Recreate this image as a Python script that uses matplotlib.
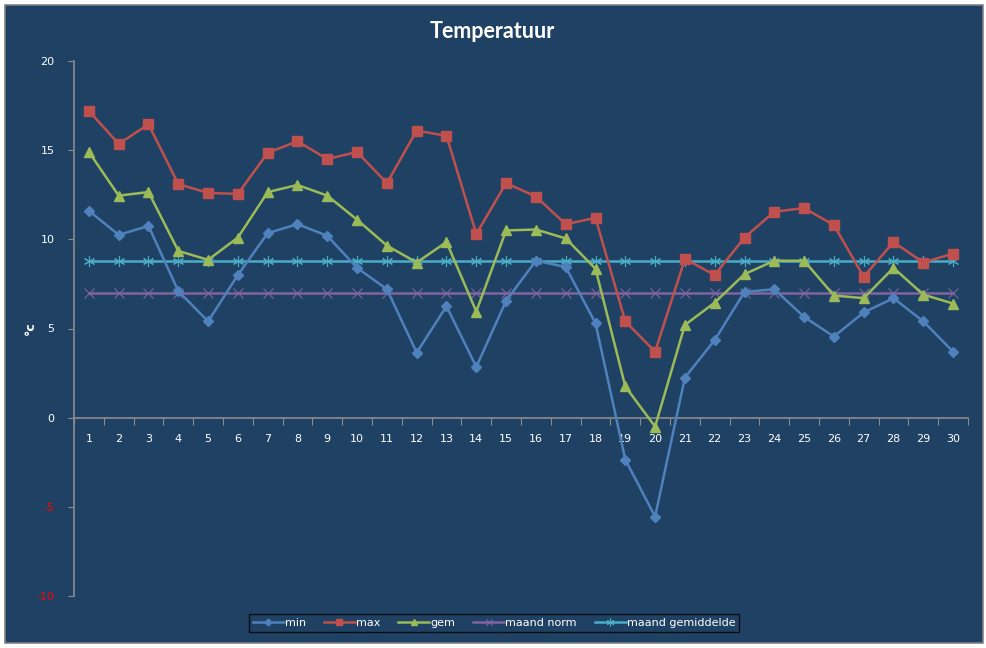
import matplotlib
matplotlib.use("Agg")
import matplotlib.pyplot as plt
from matplotlib.patches import Rectangle
import numpy as np

days = list(range(1, 31))
t_min = [11.6, 10.25, 10.75, 7.1, 5.4, 8.0, 10.35, 10.85, 10.2, 8.4,
         7.2, 3.65, 6.25, 2.85, 6.55, 8.8, 8.45, 5.3, -2.35, -5.55,
         2.25, 4.35, 7.05, 7.2, 5.65, 4.55, 5.9, 6.7, 5.4, 3.7]
t_max = [17.2, 15.35, 16.45, 13.1, 12.6, 12.55, 14.85, 15.5, 14.5, 14.9,
         13.15, 16.1, 15.8, 10.3, 13.15, 12.4, 10.85, 11.2, 5.4, 3.7,
         8.9, 8.0, 10.1, 11.55, 11.75, 10.8, 7.9, 9.85, 8.7, 9.2]
t_gem = [14.9, 12.45, 12.65, 9.35, 8.85, 10.1, 12.65, 13.05, 12.45, 11.1,
         9.65, 8.7, 9.85, 5.95, 10.5, 10.55, 10.05, 8.35, 1.75, -0.5,
         5.2, 6.45, 8.05, 8.8, 8.8, 6.85, 6.7, 8.4, 6.9, 6.4]
maand_norm = [7.0] * 30
maand_gem = [8.8] * 30
y_ticks = [-10, -5, 0, 5, 10, 15, 20]

BG = "#1F4264"
W, H = 987, 648
fig = plt.figure(figsize=(W / 100, H / 100), dpi=100, facecolor="white")
bgrect = Rectangle((5 / W, 5 / H), (983 - 5) / W, (643 - 5) / H,
                   transform=fig.transFigure, facecolor=BG,
                   edgecolor="#808080", linewidth=1.2, zorder=-10)
fig.patches.append(bgrect)

ax = fig.add_axes([74 / W, (H - 596) / H, (968 - 74) / W, (596 - 61) / H])
ax.set_facecolor("none")
ax.set_zorder(1)

lw = 1.8
ax.plot(days, t_min, color="#4F81BD", lw=lw, marker="D", ms=5, label="min", zorder=5)
ax.plot(days, t_max, color="#C0504D", lw=lw, marker="s", ms=6.5, label="max", zorder=5)
ax.plot(days, t_gem, color="#9BBB59", lw=lw, marker="^", ms=6.5, label="gem", zorder=5)
ax.plot(days, maand_norm, color="#8064A2", lw=lw, marker="x", ms=7, mew=0.8,
        label="maand norm", zorder=4)
ax.plot(days, maand_gem, color="#4BACC6", lw=lw, marker=(6, 2, 0), ms=8, mew=0.8,
        label="maand gemiddelde", zorder=4)

ax.set_xlim(0.5, 30.5)
ax.set_ylim(-10, 20)

for s in ["top", "right"]:
    ax.spines[s].set_visible(False)
ax.spines["left"].set_color("#8C8C8C")
ax.spines["bottom"].set_color("#8C8C8C")
ax.spines["bottom"].set_position(("data", 0))
ax.spines["left"].set_linewidth(1.2)
ax.spines["bottom"].set_linewidth(1.2)

ax.set_yticks(y_ticks)
ax.set_yticklabels([str(v) for v in y_ticks])
for lab, v in zip(ax.get_yticklabels(), y_ticks):
    lab.set_color("red" if v < 0 else "white")
ax.tick_params(axis="y", direction="out", length=4, color="#8C8C8C",
               labelsize=8, pad=10)

ax.set_xticks(np.arange(0.5, 31, 1.0))
ax.set_xticklabels([])
ax.set_xticks(days, minor=True)
ax.set_xticklabels([str(d) for d in days], minor=True)
ax.tick_params(axis="x", which="major", direction="out", length=5, color="#8C8C8C")
ax.tick_params(axis="x", which="minor", length=0, labelsize=8,
               labelcolor="white", pad=12)

fig.text(30 / W, (H - 328) / H, "°c", rotation=90, color="white",
         fontsize=9, fontweight="bold", ha="center", va="center")
fig.text(492 / W, (H - 32) / H, "Temperatuur", color="white",
         fontsize=15.5, fontweight="bold", family="Lato", ha="center", va="center")

leg = fig.legend(loc="center", bbox_to_anchor=(494 / W, (H - 623) / H), ncol=5,
                 frameon=True, fontsize=8, handlelength=2.8, columnspacing=1.6,
                 handletextpad=0.1, borderpad=0.35, fancybox=False, markerscale=0.7)
leg.get_frame().set_facecolor(BG)
leg.get_frame().set_edgecolor("black")
leg.get_frame().set_linewidth(1.0)
for t in leg.get_texts():
    t.set_color("white")

fig.savefig("out.png", dpi=100, facecolor="white")
